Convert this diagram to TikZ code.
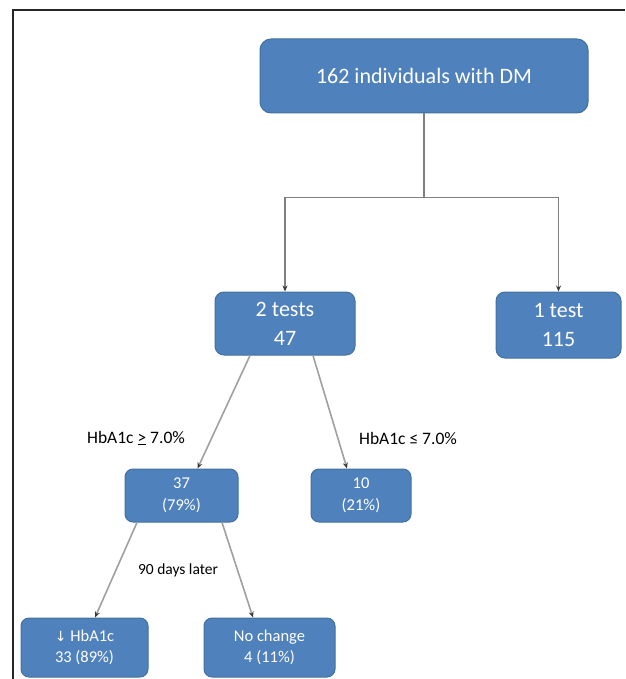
\documentclass[tikz,border=0pt]{standalone}
\usepackage{fontspec}
\setmainfont{Carlito}
\newfontfamily\symfont{DejaVu Sans}
\usetikzlibrary{arrows.meta,calc}
\definecolor{boxfill}{HTML}{4F81BD}
\definecolor{boxedge}{HTML}{41719C}
\definecolor{linegray}{HTML}{7F7F7F}
\definecolor{lightgray}{HTML}{A0A0A0}
\definecolor{tipgray}{HTML}{3A3A3A}
\tikzset{
  bluebox/.style={draw=boxedge, line width=1pt, fill=boxfill, text=white, align=center, inner sep=0pt},
  bigbox/.style={bluebox, rounded corners=11pt, font=\fontsize{22}{29}\selectfont},
  smallbox/.style={bluebox, rounded corners=8pt, font=\fontsize{16.5}{21.5}\selectfont},
  conn/.style={draw=linegray, line width=1.6pt},
  arr/.style={conn, -{Stealth[length=6pt,width=5pt,color=tipgray]}},
  diag/.style={arr, draw=lightgray},
  lbl/.style={inner sep=0pt, text=black, font=\fontsize{17.5}{20}\selectfont},
  lblsmall/.style={inner sep=0pt, text=black, font=\fontsize{15.5}{18}\selectfont},
}
\begin{document}
\begin{tikzpicture}[x=1pt,y=-1pt]
\useasboundingbox (0,0) rectangle (625,679);
% frame
\draw[line width=1.6pt, draw=black!85] (13,679) -- (13,10) -- (625,10);
% nodes
\node[bigbox, minimum width=328pt, minimum height=74pt] (top) at (424,76) {162 individuals with DM};
\node[bigbox, rounded corners=9pt, minimum width=140pt, minimum height=63pt] (t2) at (285,323.5) {2 tests\\47};
\node[bigbox, rounded corners=9pt, minimum width=125pt, minimum height=66pt] (t1) at (558.5,325) {1 test\\115};
\node[smallbox, minimum width=113pt, minimum height=53pt] (n37) at (181.5,495.5) {37\\(79\%)};
\node[smallbox, minimum width=100pt, minimum height=53pt] (n10) at (361,495.5) {10\\(21\%)};
\node[smallbox, minimum width=127pt, minimum height=59pt] (ndown) at (84.5,647.5) {{\symfont\fontsize{14}{14}\selectfont↓} HbA1c\\33 (89\%)};
\node[smallbox, minimum width=131pt, minimum height=59pt] (nno) at (269.5,647.5) {No change\\4 (11\%)};
% labels
\node[lbl] (lge) at (136,438) {HbA1c \underline{>} 7.0\%};
\node[lbl] (lle) at (408,438) {HbA1c ≤ 7.0\%};
\node[lblsmall] (l90) at (178,570) {90 days later};
% connectors
\draw[conn] (top.south) -- ++(0,84) coordinate (j);
\draw[arr] (j) -| (t2.north);
\draw[arr] (j) -| (t1.north);
\draw[diag] ([xshift=-35pt]t2.south) -- ([xshift=16pt]n37.north);
\draw[diag] ([xshift=28pt]t2.south) -- ([xshift=-14pt]n10.north);
\draw[diag] ([xshift=-44.5pt]n37.south) -- ([xshift=10.5pt]ndown.north);
\draw[diag] ([xshift=40.5pt]n37.south) -- ([xshift=-16.5pt]nno.north);
\end{tikzpicture}
\end{document}
